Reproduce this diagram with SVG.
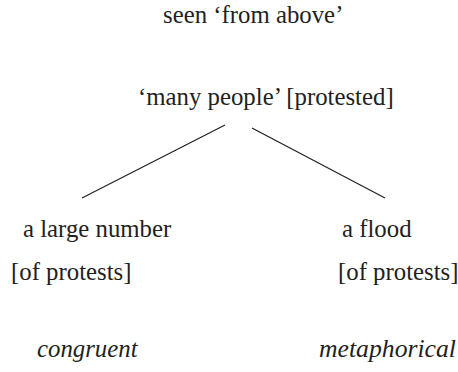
<svg xmlns="http://www.w3.org/2000/svg" width="458" height="372" viewBox="0 0 458 372">
  <style>
    text { font-family: "Liberation Serif", "Times New Roman", serif; font-size: 24.8px; fill: #231f20; }
    .it { font-style: italic; }
    .edge { stroke: #231f20; stroke-width: 1.2; fill: none; }
  </style>
  <rect width="458" height="372" fill="#ffffff"/>
  <g id="title">
    <text x="163" y="22.5">seen ‘from above’</text>
  </g>
  <g id="root">
    <text x="138" y="105">‘many people’ [protested]</text>
  </g>
  <g id="connectors">
    <line class="edge" x1="225" y1="125" x2="82" y2="198"/>
    <line class="edge" x1="252" y1="128" x2="385" y2="198"/>
  </g>
  <g id="congruent-node">
    <text x="23" y="237">a large number</text>
    <text x="11" y="280">[of protests]</text>
  </g>
  <g id="metaphorical-node">
    <text x="342" y="237">a flood</text>
    <text x="338" y="280">[of protests]</text>
  </g>
  <g id="congruent-label">
    <text class="it" x="37" y="357">congruent</text>
  </g>
  <g id="metaphorical-label">
    <text class="it" x="319" y="357" textLength="137" lengthAdjust="spacingAndGlyphs">metaphorical</text>
  </g>
</svg>
